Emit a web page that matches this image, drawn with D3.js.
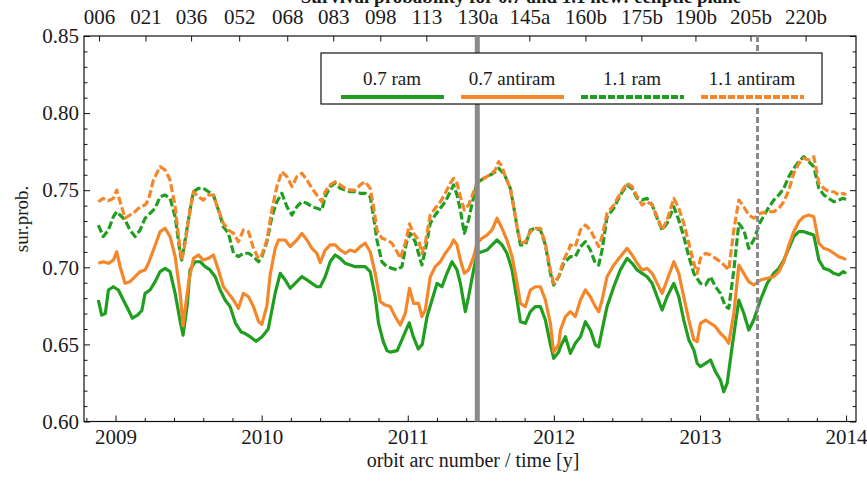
<!DOCTYPE html>
<html>
<head>
<meta charset="utf-8">
<script src="https://cdn.jsdelivr.net/npm/d3@7"></script>
<style>
  html, body { margin: 0; padding: 0; background: #fff; }
  svg { display: block; }
  text { font-family: "Liberation Serif", "Times New Roman", serif; fill: #1a1a1a; }
</style>
</head>
<body>
<svg id="chart" width="867" height="485"></svg>
<script>
// ---- data: survival probability vs. time (decimal year) ----
const seriesNames = ["0.7 ram", "0.7 antiram", "1.1 ram", "1.1 antiram"];

const ram07 = [
  [2008.882,0.6788],[2008.905,0.6690],[2008.930,0.6700],[2008.951,0.6853],[2008.985,0.6874],[2009.019,0.6853],
  [2009.053,0.6788],[2009.088,0.6723],[2009.115,0.6670],[2009.150,0.6690],[2009.180,0.6720],[2009.202,0.6831],
  [2009.236,0.6853],[2009.271,0.6907],[2009.305,0.6972],[2009.339,0.6993],[2009.373,0.6972],[2009.408,0.6831],
  [2009.442,0.6650],[2009.462,0.6560],[2009.490,0.6750],[2009.510,0.6983],[2009.545,0.7036],[2009.579,0.7036],
  [2009.613,0.7004],[2009.647,0.6983],[2009.682,0.6939],[2009.716,0.6853],[2009.750,0.6788],[2009.784,0.6745],
  [2009.820,0.6640],[2009.860,0.6580],[2009.887,0.6570],[2009.921,0.6550],[2009.962,0.6520],[2010.003,0.6550],
  [2010.045,0.6600],[2010.092,0.6830],[2010.127,0.6961],[2010.161,0.6918],[2010.195,0.6864],[2010.229,0.6896],
  [2010.275,0.6939],[2010.310,0.6918],[2010.344,0.6896],[2010.378,0.6874],[2010.401,0.6874],[2010.435,0.6939],
  [2010.469,0.7036],[2010.503,0.7080],[2010.538,0.7058],[2010.572,0.7026],[2010.606,0.7015],[2010.640,0.7004],
  [2010.675,0.7004],[2010.709,0.7004],[2010.743,0.6972],[2010.777,0.6809],[2010.800,0.6637],[2010.832,0.6520],
  [2010.858,0.6460],[2010.880,0.6450],[2010.928,0.6460],[2010.969,0.6550],[2011.010,0.6640],[2011.038,0.6550],
  [2011.072,0.6470],[2011.099,0.6500],[2011.132,0.6680],[2011.166,0.6788],[2011.200,0.6896],[2011.234,0.6874],
  [2011.268,0.6961],[2011.303,0.7036],[2011.337,0.6983],[2011.360,0.6896],[2011.394,0.6712],[2011.416,0.6809],
  [2011.451,0.6983],[2011.474,0.7091],[2011.508,0.7101],[2011.542,0.7112],[2011.577,0.7145],[2011.611,0.7177],
  [2011.645,0.7145],[2011.679,0.7091],[2011.714,0.6983],[2011.748,0.6788],[2011.771,0.6647],[2011.805,0.6637],
  [2011.839,0.6712],[2011.873,0.6745],[2011.908,0.6745],[2011.942,0.6658],[2011.976,0.6500],[2011.999,0.6410],
  [2012.033,0.6450],[2012.045,0.6485],[2012.079,0.6550],[2012.113,0.6442],[2012.147,0.6507],[2012.182,0.6550],
  [2012.216,0.6647],[2012.250,0.6593],[2012.284,0.6496],[2012.307,0.6485],[2012.330,0.6593],[2012.364,0.6745],
  [2012.410,0.6874],[2012.455,0.6983],[2012.501,0.7058],[2012.536,0.7026],[2012.570,0.6983],[2012.604,0.6961],
  [2012.638,0.6939],[2012.673,0.6896],[2012.707,0.6809],[2012.741,0.6723],[2012.775,0.6809],[2012.821,0.6896],
  [2012.855,0.6809],[2012.889,0.6658],[2012.924,0.6529],[2012.958,0.6464],[2012.981,0.6377],[2013.003,0.6356],
  [2013.038,0.6377],[2013.072,0.6399],[2013.106,0.6323],[2013.140,0.6269],[2013.163,0.6193],[2013.186,0.6247],
  [2013.220,0.6485],[2013.266,0.6788],[2013.300,0.6702],[2013.334,0.6593],[2013.368,0.6658],[2013.414,0.6788],
  [2013.460,0.6896],[2013.505,0.6961],[2013.540,0.6993],[2013.574,0.7047],[2013.608,0.7123],[2013.642,0.7199],
  [2013.677,0.7231],[2013.711,0.7231],[2013.745,0.7220],[2013.779,0.7209],[2013.814,0.7047],[2013.848,0.6993],
  [2013.882,0.6983],[2013.916,0.6961],[2013.950,0.6950],[2013.981,0.6972],[2014.000,0.6960]
];

const antiram07 = [
  [2008.882,0.7026],[2008.916,0.7036],[2008.951,0.7026],[2008.985,0.7047],[2009.008,0.7101],[2009.031,0.7004],
  [2009.065,0.6896],[2009.099,0.6907],[2009.134,0.6939],[2009.168,0.6972],[2009.202,0.6983],[2009.225,0.7026],
  [2009.259,0.7112],[2009.305,0.7231],[2009.339,0.7253],[2009.373,0.7199],[2009.408,0.7069],[2009.442,0.6831],
  [2009.462,0.6620],[2009.499,0.6896],[2009.533,0.7058],[2009.567,0.7080],[2009.601,0.7047],[2009.636,0.7058],
  [2009.670,0.7080],[2009.704,0.6983],[2009.738,0.6874],[2009.773,0.6831],[2009.807,0.6788],[2009.841,0.6734],
  [2009.875,0.6831],[2009.910,0.6809],[2009.944,0.6745],[2009.978,0.6650],[2010.001,0.6630],[2010.036,0.6750],
  [2010.058,0.6950],[2010.092,0.7120],[2010.115,0.7177],[2010.161,0.7177],[2010.195,0.7134],[2010.241,0.7177],
  [2010.275,0.7220],[2010.310,0.7177],[2010.344,0.7123],[2010.378,0.7091],[2010.401,0.7030],[2010.435,0.7112],
  [2010.469,0.7145],[2010.503,0.7145],[2010.538,0.7112],[2010.572,0.7091],[2010.606,0.7112],[2010.640,0.7101],
  [2010.675,0.7134],[2010.709,0.7156],[2010.743,0.7101],[2010.777,0.6961],[2010.812,0.6777],[2010.846,0.6755],
  [2010.880,0.6745],[2010.914,0.6680],[2010.949,0.6626],[2010.983,0.6701],[2011.012,0.6864],[2011.040,0.6766],
  [2011.074,0.6766],[2011.097,0.6680],[2011.120,0.6723],[2011.154,0.6939],[2011.188,0.7004],[2011.223,0.7036],
  [2011.257,0.7091],[2011.291,0.7134],[2011.314,0.7177],[2011.337,0.7145],[2011.360,0.7047],[2011.387,0.6961],
  [2011.416,0.6983],[2011.451,0.7069],[2011.474,0.7156],[2011.508,0.7188],[2011.542,0.7209],[2011.577,0.7242],
  [2011.611,0.7318],[2011.645,0.7253],[2011.679,0.7177],[2011.714,0.7069],[2011.748,0.6896],[2011.771,0.6766],
  [2011.805,0.6745],[2011.839,0.6853],[2011.873,0.6874],[2011.908,0.6874],[2011.942,0.6788],[2011.976,0.6637],
  [2011.999,0.6450],[2012.033,0.6500],[2012.045,0.6593],[2012.079,0.6680],[2012.113,0.6712],[2012.147,0.6680],
  [2012.182,0.6788],[2012.216,0.6853],[2012.250,0.6809],[2012.284,0.6745],[2012.307,0.6712],[2012.330,0.6788],
  [2012.364,0.6939],[2012.410,0.7015],[2012.455,0.7069],[2012.501,0.7123],[2012.536,0.7080],[2012.570,0.7026],
  [2012.604,0.6983],[2012.638,0.6993],[2012.673,0.6961],[2012.707,0.6896],[2012.741,0.6831],[2012.775,0.6918],
  [2012.821,0.7036],[2012.855,0.6961],[2012.889,0.6809],[2012.924,0.6658],[2012.958,0.6529],[2012.981,0.6518],
  [2013.003,0.6637],[2013.038,0.6658],[2013.072,0.6637],[2013.106,0.6615],[2013.140,0.6572],[2013.175,0.6540],
  [2013.197,0.6507],[2013.232,0.6702],[2013.266,0.7015],[2013.300,0.6961],[2013.334,0.6907],[2013.368,0.6885],
  [2013.414,0.6918],[2013.460,0.6929],[2013.505,0.6939],[2013.540,0.6972],[2013.574,0.7036],[2013.608,0.7145],
  [2013.642,0.7231],[2013.677,0.7296],[2013.711,0.7328],[2013.745,0.7339],[2013.779,0.7328],[2013.814,0.7156],
  [2013.848,0.7123],[2013.882,0.7112],[2013.916,0.7091],[2013.950,0.7069],[2013.981,0.7058],[2014.000,0.7050]
];

const ram11 = [
  [2008.882,0.7274],[2008.916,0.7199],[2008.951,0.7242],[2008.985,0.7328],[2009.008,0.7361],[2009.031,0.7339],
  [2009.065,0.7307],[2009.099,0.7242],[2009.134,0.7199],[2009.168,0.7242],[2009.202,0.7318],[2009.236,0.7350],
  [2009.271,0.7383],[2009.305,0.7458],[2009.339,0.7469],[2009.373,0.7447],[2009.408,0.7328],[2009.442,0.7091],
  [2009.453,0.7047],[2009.476,0.7177],[2009.510,0.7372],[2009.533,0.7490],[2009.567,0.7512],[2009.601,0.7512],
  [2009.636,0.7490],[2009.670,0.7469],[2009.704,0.7372],[2009.738,0.7263],[2009.773,0.7220],[2009.807,0.7091],
  [2009.841,0.7069],[2009.875,0.7091],[2009.910,0.7091],[2009.944,0.7069],[2009.978,0.7036],[2010.001,0.7069],
  [2010.036,0.7166],[2010.070,0.7328],[2010.104,0.7425],[2010.138,0.7480],[2010.173,0.7393],[2010.207,0.7339],
  [2010.241,0.7393],[2010.275,0.7425],[2010.310,0.7415],[2010.344,0.7393],[2010.378,0.7383],[2010.412,0.7372],
  [2010.435,0.7458],[2010.469,0.7523],[2010.503,0.7545],[2010.538,0.7512],[2010.572,0.7501],[2010.606,0.7490],
  [2010.640,0.7490],[2010.675,0.7480],[2010.709,0.7480],[2010.743,0.7458],[2010.766,0.7328],[2010.789,0.7177],
  [2010.823,0.7036],[2010.858,0.7004],[2010.892,0.6993],[2010.926,0.6983],[2010.960,0.7004],[2010.990,0.7156],
  [2011.017,0.7220],[2011.051,0.7166],[2011.086,0.7047],[2011.097,0.7015],[2011.120,0.7112],[2011.154,0.7285],
  [2011.188,0.7339],[2011.223,0.7383],[2011.257,0.7425],[2011.291,0.7490],[2011.314,0.7534],[2011.337,0.7469],
  [2011.360,0.7372],[2011.387,0.7220],[2011.416,0.7307],[2011.451,0.7458],[2011.474,0.7545],[2011.508,0.7570],
  [2011.542,0.7588],[2011.577,0.7605],[2011.599,0.7620],[2011.622,0.7642],[2011.645,0.7620],[2011.668,0.7588],
  [2011.702,0.7512],[2011.725,0.7393],[2011.748,0.7263],[2011.771,0.7145],[2011.805,0.7145],[2011.839,0.7242],
  [2011.873,0.7253],[2011.908,0.7242],[2011.942,0.7145],[2011.976,0.6963],[2011.999,0.6885],[2012.033,0.6939],
  [2012.068,0.7026],[2012.079,0.7036],[2012.113,0.7069],[2012.147,0.7069],[2012.182,0.7134],[2012.216,0.7166],
  [2012.250,0.7112],[2012.284,0.7026],[2012.307,0.7015],[2012.330,0.7112],[2012.364,0.7328],[2012.410,0.7383],
  [2012.455,0.7469],[2012.501,0.7534],[2012.536,0.7510],[2012.570,0.7447],[2012.604,0.7436],[2012.638,0.7447],
  [2012.673,0.7404],[2012.707,0.7318],[2012.741,0.7242],[2012.775,0.7285],[2012.821,0.7393],[2012.855,0.7307],
  [2012.889,0.7199],[2012.924,0.7069],[2012.958,0.6961],[2013.003,0.6896],[2013.038,0.6885],[2013.072,0.6939],
  [2013.106,0.6874],[2013.140,0.6831],[2013.175,0.6745],[2013.197,0.6734],[2013.232,0.6983],[2013.266,0.7285],
  [2013.300,0.7242],[2013.334,0.7123],[2013.368,0.7177],[2013.414,0.7296],[2013.460,0.7372],[2013.505,0.7436],
  [2013.540,0.7469],[2013.574,0.7512],[2013.608,0.7588],[2013.642,0.7642],[2013.677,0.7685],[2013.711,0.7717],
  [2013.745,0.7685],[2013.779,0.7653],[2013.814,0.7512],[2013.848,0.7469],[2013.882,0.7447],[2013.916,0.7425],
  [2013.950,0.7436],[2013.981,0.7447],[2014.000,0.7440]
];

const antiram11 = [
  [2008.882,0.7425],[2008.916,0.7447],[2008.951,0.7432],[2008.985,0.7447],[2009.008,0.7501],[2009.031,0.7425],
  [2009.065,0.7318],[2009.099,0.7339],[2009.134,0.7361],[2009.168,0.7393],[2009.202,0.7404],[2009.225,0.7436],
  [2009.259,0.7566],[2009.305,0.7653],[2009.339,0.7631],[2009.373,0.7566],[2009.408,0.7393],[2009.442,0.7112],
  [2009.453,0.7047],[2009.476,0.7156],[2009.510,0.7372],[2009.533,0.7490],[2009.567,0.7458],[2009.601,0.7436],
  [2009.636,0.7469],[2009.670,0.7469],[2009.704,0.7372],[2009.738,0.7285],[2009.773,0.7242],[2009.807,0.7220],
  [2009.841,0.7166],[2009.875,0.7242],[2009.910,0.7231],[2009.944,0.7123],[2009.978,0.7058],[2010.001,0.7080],
  [2010.036,0.7177],[2010.070,0.7372],[2010.104,0.7523],[2010.138,0.7620],[2010.173,0.7588],[2010.207,0.7523],
  [2010.241,0.7588],[2010.275,0.7610],[2010.310,0.7566],[2010.344,0.7512],[2010.378,0.7469],[2010.412,0.7425],
  [2010.435,0.7490],[2010.469,0.7534],[2010.503,0.7555],[2010.538,0.7534],[2010.572,0.7512],[2010.606,0.7501],
  [2010.640,0.7501],[2010.675,0.7534],[2010.709,0.7555],[2010.743,0.7512],[2010.766,0.7393],[2010.789,0.7242],
  [2010.823,0.7188],[2010.858,0.7177],[2010.892,0.7156],[2010.926,0.7101],[2010.949,0.7058],[2010.983,0.7156],
  [2011.012,0.7281],[2011.040,0.7220],[2011.074,0.7177],[2011.097,0.7091],[2011.120,0.7156],[2011.154,0.7339],
  [2011.188,0.7383],[2011.223,0.7425],[2011.257,0.7480],[2011.291,0.7545],[2011.314,0.7577],[2011.337,0.7545],
  [2011.360,0.7458],[2011.387,0.7372],[2011.416,0.7404],[2011.451,0.7490],[2011.474,0.7545],[2011.508,0.7570],
  [2011.542,0.7588],[2011.577,0.7610],[2011.599,0.7631],[2011.622,0.7685],[2011.645,0.7653],[2011.668,0.7588],
  [2011.702,0.7512],[2011.725,0.7393],[2011.748,0.7263],[2011.771,0.7156],[2011.805,0.7166],[2011.839,0.7231],
  [2011.873,0.7253],[2011.908,0.7253],[2011.942,0.7156],[2011.976,0.6983],[2011.999,0.6896],[2012.033,0.6939],
  [2012.068,0.7050],[2012.102,0.7112],[2012.113,0.7145],[2012.147,0.7134],[2012.182,0.7242],[2012.216,0.7274],
  [2012.250,0.7242],[2012.284,0.7177],[2012.307,0.7134],[2012.330,0.7199],[2012.364,0.7350],[2012.410,0.7404],
  [2012.455,0.7480],[2012.501,0.7545],[2012.536,0.7523],[2012.570,0.7458],[2012.604,0.7404],[2012.638,0.7425],
  [2012.673,0.7404],[2012.707,0.7328],[2012.741,0.7242],[2012.775,0.7307],[2012.821,0.7447],[2012.855,0.7383],
  [2012.889,0.7285],[2012.924,0.7156],[2012.958,0.7026],[2012.981,0.6961],[2013.003,0.7058],[2013.038,0.7091],
  [2013.072,0.7080],[2013.106,0.7058],[2013.140,0.7036],[2013.175,0.7004],[2013.197,0.6983],[2013.232,0.7242],
  [2013.266,0.7436],[2013.300,0.7393],[2013.334,0.7339],[2013.368,0.7318],[2013.414,0.7350],[2013.460,0.7361],
  [2013.505,0.7361],[2013.540,0.7383],[2013.574,0.7425],[2013.608,0.7501],[2013.642,0.7610],[2013.677,0.7674],
  [2013.711,0.7707],[2013.745,0.7696],[2013.779,0.7717],[2013.814,0.7545],[2013.848,0.7512],[2013.882,0.7490],
  [2013.916,0.7490],[2013.950,0.7469],[2013.981,0.7480],[2014.000,0.7470]
];

// bottom axis: years; top axis: orbit arc numbers at their dates
const yearTicks = [2009, 2010, 2011, 2012, 2013, 2014];
const orbitTickYears = [2008.887, 2009.205, 2009.517, 2009.846, 2010.175, 2010.490, 2010.812, 2011.127,
                        2011.476, 2011.832, 2012.216, 2012.599, 2012.969, 2013.346, 2013.723];
const orbitLabels = ["006", "021", "036", "052", "068", "083", "098", "113",
                     "130a", "145a", "160b", "175b", "190b", "205b", "220b"];
const yTicks = [0.60, 0.65, 0.70, 0.75, 0.80, 0.85];

// event markers (decimal year)
const solidMarkerYear = 2011.476;
const dashedMarkerYear = 2013.394;

// ---- drawing ----
const GREEN = "#1f9e1f", ORANGE = "#f5872b", GRAY = "#8a8a8a";
const styles = [
  { data: ram07,     color: GREEN,  dash: null },
  { data: antiram07, color: ORANGE, dash: null },
  { data: ram11,     color: GREEN,  dash: "8,3" },
  { data: antiram11, color: ORANGE, dash: "8,3" }
];

const svg = d3.select("#chart");
const L = 84, R = 856, T = 36, B = 421.5;

const x = d3.scaleLinear().domain([2008.784, 2014.068]).range([L, R]);
const y = d3.scaleLinear().domain([0.60, 0.85]).range([B, T]);

// title (runs off the top edge of the page)
svg.append("text")
  .attr("x", 521).attr("y", 3)
  .attr("text-anchor", "middle")
  .style("font-weight", "bold").style("font-size", "19px")
  .text("Survival probability for 0.7 and 1.1 new: ecliptic plane");

// minor ticks
const minorX = d3.range(2008.8, 2014.01, 0.2).filter(v => Math.abs(v - Math.round(v)) > 1e-6);
const minorY = d3.range(0.60, 0.851, 0.01).filter(v => Math.abs(v * 20 - Math.round(v * 20)) > 1e-6);

function noLabels(g) { g.selectAll("text").remove(); }
function cleanAxis(g) { g.select(".domain").remove(); g.selectAll("line").attr("stroke", "#111"); }

svg.append("g").attr("transform", `translate(0,${B})`)
  .call(d3.axisBottom(x).tickValues(minorX).tickSize(-3.5)).call(cleanAxis).call(noLabels);
svg.append("g").attr("transform", `translate(0,${B})`)
  .call(d3.axisBottom(x).tickValues(yearTicks).tickFormat(d3.format("d")).tickSize(-6).tickPadding(8))
  .call(cleanAxis)
  .selectAll("text").style("font-size", "21px").attr("fill", "#1a1a1a");

svg.append("g").attr("transform", `translate(0,${T})`)
  .call(d3.axisTop(x).tickValues(orbitTickYears).tickFormat((d, i) => orbitLabels[i]).tickSize(-5.5).tickPadding(12))
  .call(cleanAxis)
  .selectAll("text").style("font-size", "21px").attr("fill", "#1a1a1a");

svg.append("g").attr("transform", `translate(${L},0)`)
  .call(d3.axisLeft(y).tickValues(minorY).tickSize(-3.5)).call(cleanAxis).call(noLabels);
svg.append("g").attr("transform", `translate(${L},0)`)
  .call(d3.axisLeft(y).tickValues(yTicks).tickFormat(d3.format(".2f")).tickSize(-6).tickPadding(5))
  .call(cleanAxis)
  .selectAll("text").style("font-size", "21px").attr("fill", "#1a1a1a");

svg.append("g").attr("transform", `translate(${R},0)`)
  .call(d3.axisRight(y).tickValues(minorY).tickSize(-3.5)).call(cleanAxis).call(noLabels);
svg.append("g").attr("transform", `translate(${R},0)`)
  .call(d3.axisRight(y).tickValues(yTicks).tickSize(-6)).call(cleanAxis).call(noLabels);

// frame
svg.append("rect").attr("x", L).attr("y", T).attr("width", R - L).attr("height", B - T)
  .attr("fill", "none").attr("stroke", "#111").attr("stroke-width", 1.2);

// series
const line = d3.line().x(d => x(d[0])).y(d => y(d[1]));
const plot = svg.append("g");
styles.forEach(s => {
  plot.append("path").datum(s.data)
    .attr("d", line)
    .attr("fill", "none")
    .attr("stroke", s.color)
    .attr("stroke-width", 3.2)
    .attr("stroke-linejoin", "round")
    .attr("stroke-dasharray", s.dash);
});

// markers
svg.append("line")
  .attr("x1", x(solidMarkerYear)).attr("x2", x(solidMarkerYear))
  .attr("y1", T).attr("y2", B)
  .attr("stroke", GRAY).attr("stroke-width", 5);
svg.append("line")
  .attr("x1", x(dashedMarkerYear)).attr("x2", x(dashedMarkerYear))
  .attr("y1", T).attr("y2", B)
  .attr("stroke", GRAY).attr("stroke-width", 3).attr("stroke-dasharray", "6,3");

// legend
const lg = svg.append("g");
lg.append("rect").attr("x", 321).attr("y", 53).attr("width", 501).attr("height", 51)
  .attr("fill", "#fff").attr("stroke", "#111").attr("stroke-width", 1.2);
const legendX = [341, 461, 581, 701];
styles.forEach((s, i) => {
  const x0 = legendX[i];
  lg.append("text").attr("x", x0 + 51).attr("y", 85)
    .attr("text-anchor", "middle").style("font-size", "19px")
    .text(seriesNames[i]);
  lg.append("line").attr("x1", x0).attr("x2", x0 + 103).attr("y1", 97).attr("y2", 97)
    .attr("stroke", s.color).attr("stroke-width", 4)
    .attr("stroke-dasharray", s.dash ? "7,2" : null);
});

// axis titles
svg.append("text").attr("x", 473).attr("y", 467).attr("text-anchor", "middle")
  .style("font-size", "20px").text("orbit arc number / time [y]");
svg.append("text").attr("transform", "translate(28,219) rotate(-90)")
  .attr("text-anchor", "middle").style("font-size", "19px").text("sur.prob.");
</script>
</body>
</html>
